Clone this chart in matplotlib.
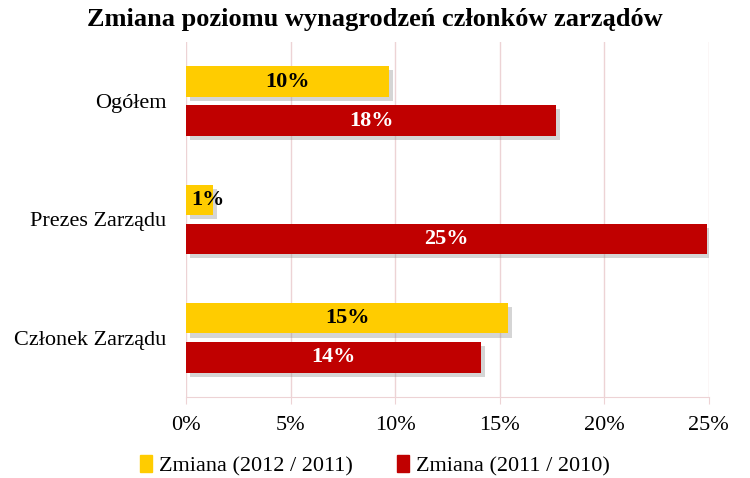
import matplotlib
matplotlib.use("Agg")
import matplotlib.pyplot as plt
import matplotlib.patheffects as pe
from matplotlib.patches import Patch
from matplotlib.ticker import FuncFormatter

categories = ["Ogółem", "Prezes Zarządu", "Członek Zarządu"]
series_names = ["Zmiana (2012 / 2011)", "Zmiana (2011 / 2010)"]
change_2012 = [9.7, 1.3, 15.4]
change_2011 = [17.7, 24.9, 14.1]
x_ticks = [0, 5, 10, 15, 20, 25]

yellow = "#FFCC00"
red = "#C00000"
grid_col = "#EDD3D5"

plt.rcParams["font.family"] = ["Liberation Serif", "DejaVu Serif"]

fig = plt.figure(figsize=(7.5, 4.78), dpi=100)
ax = fig.add_axes([0.248, 0.17, 0.697, 0.742])

shadow = [pe.SimplePatchShadow(offset=(3, -3), shadow_rgbFace="#888888", alpha=0.35), pe.Normal()]
bar_h = 0.26
off = 0.165
ypos = list(range(len(categories)))

b1 = ax.barh([y - off for y in ypos], change_2012, height=bar_h, color=yellow, zorder=3)
b2 = ax.barh([y + off for y in ypos], change_2011, height=bar_h, color=red, zorder=3)
for bars, txt_col in ((b1, "black"), (b2, "white")):
    for rect in bars:
        rect.set_path_effects(shadow)
        w = rect.get_width()
        ax.text(w / 2 + (0.4 if w < 3 else 0), rect.get_y() + rect.get_height() / 2,
                f"{round(w):.0f}%", ha="center", va="center", color=txt_col,
                fontsize=16, fontweight="bold", zorder=4)

ax.set_xlim(0, 25)
ax.set_ylim(2.5, -0.5)
ax.set_xticks(x_ticks)
ax.xaxis.set_major_formatter(FuncFormatter(lambda v, p: f"{v:.0f}%"))
ax.set_yticks(ypos)
ax.set_yticklabels(categories)
ax.tick_params(axis="y", length=0, pad=14, labelsize=16)
ax.tick_params(axis="x", length=5, color=grid_col, pad=9, labelsize=16)
ax.grid(axis="x", color=grid_col, linewidth=1, zorder=0)
for s in ("top", "right", "left"):
    ax.spines[s].set_visible(False)
ax.spines["bottom"].set_color(grid_col)

fig.suptitle("Zmiana poziomu wynagrodzeń członków zarządów", x=0.5, y=0.983,
             fontsize=19, fontweight="bold")

handles = [Patch(color=yellow), Patch(color=red)]
fig.legend(handles, series_names, loc="lower center", bbox_to_anchor=(0.5, -0.038),
           ncol=2, frameon=False, fontsize=16, handlelength=0.55, handleheight=0.8,
           handletextpad=0.3, columnspacing=2.0)

fig.savefig("out.png", dpi=100)
